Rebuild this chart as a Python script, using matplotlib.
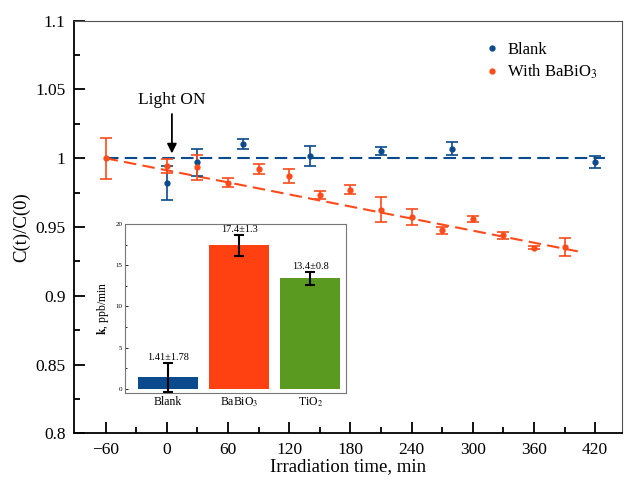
import numpy as np
import matplotlib
matplotlib.use('Agg')
import matplotlib.pyplot as plt

plt.rcParams['font.family'] = ['Liberation Serif', 'DejaVu Serif']
plt.rcParams['mathtext.fontset'] = 'stix'

# blank (no catalyst)
blank_t = [0, 30, 75, 140, 210, 280, 420]
blank_c = [0.982, 0.997, 1.0106, 1.0017, 1.0053, 1.007, 0.997]
blank_err = [0.012, 0.010, 0.0036, 0.0072, 0.0027, 0.0048, 0.0044]

# with BaBiO3
ba_t = [-60, 0, 30, 60, 90, 120, 150, 180, 210, 240, 270, 300, 330, 360, 390]
ba_c = [1.0, 0.9945, 0.9934, 0.9823, 0.992, 0.987, 0.9735, 0.977, 0.9626,
        0.957, 0.9475, 0.956, 0.944, 0.935, 0.9355]
ba_err = [0.015, 0.005, 0.0092, 0.0034, 0.0036, 0.005, 0.003, 0.0033, 0.009,
          0.0058, 0.0023, 0.002, 0.0025, 0.001, 0.0066]

# fitted lines
blank_fit_t = [-60, 430]
blank_fit_c = [1.0, 1.0]
ba_fit_t = [-60, 405]
ba_fit_c = [1.0, 0.932]

# inset: rate constants
cats = ['Blank', 'BaBiO$_3$', 'TiO$_2$']
k = [1.41, 17.4, 13.4]
k_err = [1.78, 1.3, 0.8]
k_txt = ['1.41±1.78', '17.4±1.3', '13.4±0.8']

blue = '#0b4a8c'
orange = '#ff4a1a'
bar_cols = ['#0b4a8c', '#ff4010', '#5a9a20']

fig = plt.figure(figsize=(6.25, 4.86), dpi=100)
ax = fig.add_axes([0.1184, 0.1084, 0.8763, 0.849])

ax.plot(blank_fit_t, blank_fit_c, color=blue, lw=1.5, dashes=(6, 3))
ax.plot(ba_fit_t, ba_fit_c, color=orange, lw=1.5, dashes=(6, 3))
ax.errorbar(blank_t, blank_c, yerr=blank_err, fmt='o', color=blue, ms=3.5,
            capsize=4, elinewidth=1.2, capthick=1.2, label='Blank')
ax.errorbar(ba_t, ba_c, yerr=ba_err, fmt='o', color=orange, ms=3.5,
            capsize=4, elinewidth=1.2, capthick=1.2, label='With BaBiO$_3$')

ax.set_xlim(-91, 446)
ax.set_ylim(0.8, 1.1)
ax.set_xticks(np.arange(-60, 421, 60))
ax.set_xticklabels(['\u221260', '0', '60', '120', '180', '240', '300', '360', '420'])
ax.set_xticks(np.arange(-30, 421, 60), minor=True)
ax.set_yticks([0.8, 0.85, 0.9, 0.95, 1.0, 1.05, 1.1])
ax.set_yticklabels(['0.8', '0.85', '0.9', '0.95', '1', '1.05', '1.1'])
ax.set_yticks(np.arange(0.825, 1.1, 0.05), minor=True)
ax.tick_params(direction='in', labelsize=12.5, length=8, width=1.3, pad=6)
ax.tick_params(which='minor', direction='in', length=4.5, width=1.3)
for s in ['left', 'bottom']:
    ax.spines[s].set_linewidth(1.3)
for s in ['top', 'right']:
    ax.spines[s].set_linewidth(0.8)
    ax.spines[s].set_color('#555555')
ax.set_xlabel('Irradiation time, min', fontsize=13.5, labelpad=0)
ax.set_ylabel('C(t)/C(0)', fontsize=13.5, labelpad=4)

ax.annotate('Light ON', xy=(5, 1.0035), xytext=(5, 1.042), fontsize=12.5,
            ha='center', va='center',
            arrowprops=dict(arrowstyle='-|>', color='black', lw=1.3,
                            mutation_scale=14, shrinkA=2, shrinkB=0))

h, l = ax.get_legend_handles_labels()
leg = ax.legend([hh[0] for hh in h], l, loc='upper right', frameon=False,
                fontsize=12, handlelength=0.6, handletextpad=0.6,
                bbox_to_anchor=(0.985, 0.985), labelspacing=0.3)

# inset
ins = fig.add_axes([0.2, 0.1914, 0.3536, 0.3476])
x = np.arange(len(cats))
ins.bar(x, k, width=0.84, color=bar_cols)
ins.errorbar(x, k, yerr=k_err, fmt='none', ecolor='black', elinewidth=1.5,
             capsize=3.5, capthick=1.5)
for xi, ki, ei, t in zip(x, k, k_err, k_txt):
    ins.text(xi, ki + ei + 0.1, t, ha='center', va='bottom', fontsize=7.5)
ins.set_xlim(-0.6, 2.5)
ins.set_ylim(-0.5, 20)
ins.set_xticks(x)
ins.set_xticklabels(cats, fontsize=8.5)
ins.set_yticks([0, 5, 10, 15, 20])
ins.set_yticks([2.5, 7.5, 12.5, 17.5], minor=True)
ins.tick_params(axis='y', direction='in', labelsize=5, length=2.5, width=0.6, pad=2)
ins.tick_params(axis='y', which='minor', direction='in', length=1.2, width=0.6)
ins.tick_params(axis='x', length=0, pad=2)
for s in ins.spines.values():
    s.set_color('#777777')
    s.set_linewidth(0.8)
ins.set_ylabel(r'$\mathbf{k}$, ppb/min', fontsize=8.5, labelpad=3)

fig.savefig('out.png', dpi=100)
